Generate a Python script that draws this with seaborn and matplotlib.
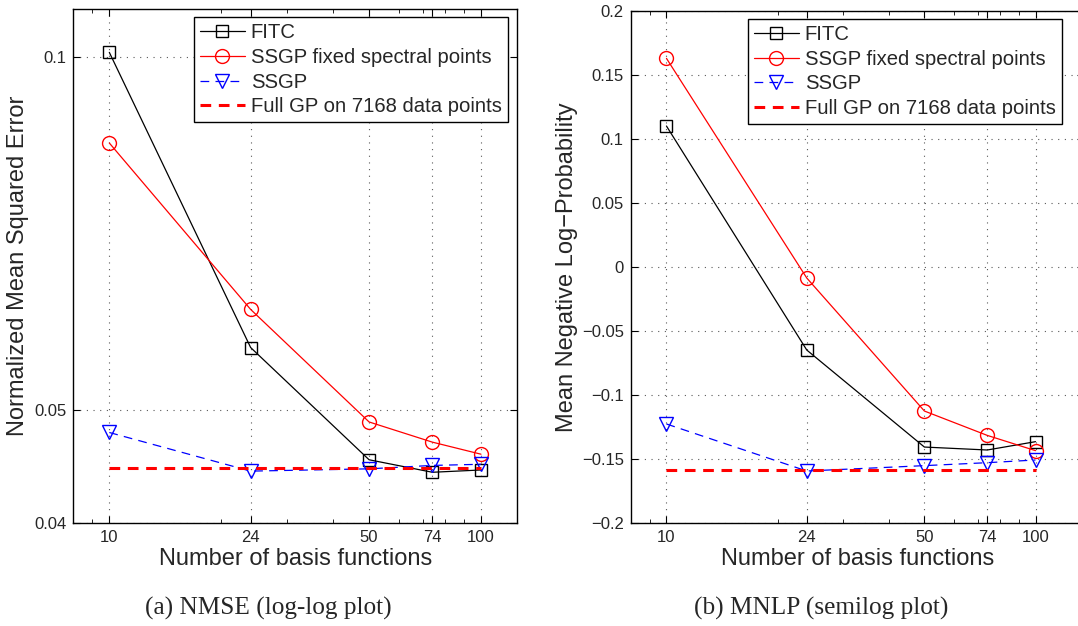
import numpy as np
import pandas as pd
import matplotlib
matplotlib.use("Agg")
import matplotlib.pyplot as plt
import matplotlib.ticker as mticker
import seaborn as sns

# ---------------- data ----------------
basis = [10, 24, 50, 74, 100]
xtick_labels = ["10", "24", "50", "74", "100"]

nmse_fitc = [0.101, 0.0565, 0.0453, 0.0442, 0.0444]
nmse_ssgp_fixed = [0.0845, 0.0609, 0.0488, 0.0469, 0.0458]
nmse_ssgp = [0.0478, 0.0443, 0.0445, 0.0448, 0.0449]
nmse_fullgp = 0.0446

mnlp_fitc = [0.110, -0.0648, -0.1405, -0.1428, -0.1363]
mnlp_ssgp_fixed = [0.1628, -0.0086, -0.1124, -0.1314, -0.1433]
mnlp_ssgp = [-0.1225, -0.1592, -0.1550, -0.1527, -0.1506]
mnlp_fullgp = -0.1584

fullgp_x = [10, 100]

nmse_yticks = [0.04, 0.05, 0.1]
nmse_ytick_labels = ["0.04", "0.05", "0.1"]
mnlp_yticks = [-0.2, -0.15, -0.1, -0.05, 0, 0.05, 0.1, 0.15, 0.2]
mnlp_ytick_labels = ["\u22120.2", "\u22120.15", "\u22120.1", "\u22120.05", "0",
                     "0.05", "0.1", "0.15", "0.2"]

labels = ["FITC", "SSGP fixed spectral points", "SSGP", "Full GP on 7168 data points"]

# ---------------- style ----------------
sns.set_style("ticks")
plt.rcParams["font.family"] = ["Liberation Sans", "DejaVu Sans"]

W, H = 1078, 626
fig = plt.figure(figsize=(W / 100, H / 100), dpi=100)

def px_axes(x0, y0, x1, y1):
    return fig.add_axes([x0 / W, 1 - y1 / H, (x1 - x0) / W, (y1 - y0) / H])

ax1 = px_axes(73.3, 9, 517, 523)
ax2 = px_axes(630.7, 10.7, 1083.6, 523.3)

def draw(ax, fitc, fixed, ssgp, full):
    sns.lineplot(x=basis, y=fitc, ax=ax, color="black", lw=0.9, marker="s",
                 markersize=8, markerfacecolor="none", markeredgecolor="black",
                 markeredgewidth=1.0, label=labels[0])
    sns.lineplot(x=basis, y=fixed, ax=ax, color="red", lw=0.9, marker="o",
                 markersize=10, markerfacecolor="none", markeredgecolor="red",
                 markeredgewidth=1.0, label=labels[1])
    sns.lineplot(x=basis, y=ssgp, ax=ax, color="blue", lw=0.9, marker="v",
                 markersize=10, markerfacecolor="none", markeredgecolor="blue",
                 markeredgewidth=1.0, linestyle=(0, (7, 5)), label=labels[2])
    sns.lineplot(x=fullgp_x, y=[full, full], ax=ax, color="red", lw=2.2,
                 linestyle=(0, (3.5, 2.5)), label=labels[3])

draw(ax1, nmse_fitc, nmse_ssgp_fixed, nmse_ssgp, nmse_fullgp)
draw(ax2, mnlp_fitc, mnlp_ssgp_fixed, mnlp_ssgp, mnlp_fullgp)

ax1.set_xscale("log")
ax1.set_yscale("log")
ax1.set_xlim(8, 125)
ax1.set_ylim(0.04, 0.11)
ax1.set_yticks(nmse_yticks)
ax1.yaxis.set_major_formatter(mticker.FixedFormatter(nmse_ytick_labels))
ax1.yaxis.set_minor_locator(mticker.NullLocator())

ax2.set_xscale("log")
ax2.set_xlim(8, 135)
ax2.set_ylim(-0.2, 0.2)
ax2.set_yticks(mnlp_yticks)
ax2.yaxis.set_major_formatter(mticker.FixedFormatter(mnlp_ytick_labels))

for ax in (ax1, ax2):
    ax.set_xticks(basis)
    ax.xaxis.set_major_formatter(mticker.FixedFormatter(xtick_labels))
    ax.xaxis.set_minor_locator(mticker.LogLocator(base=10, subs=np.arange(2, 10)))
    ax.xaxis.set_minor_formatter(mticker.NullFormatter())
    ax.grid(True, which="major", color="0.35", linestyle=(0, (1, 5)), lw=0.8)
    ax.tick_params(which="both", direction="in", top=True, right=True,
                   labelsize=12, pad=5, color="black")
    ax.tick_params(which="major", length=5, width=0.8)
    ax.tick_params(which="minor", length=3, width=0.6)
    for s in ax.spines.values():
        s.set_color("black")
        s.set_linewidth(1.0)
    ax.set_xlabel("Number of basis functions", fontsize=17, labelpad=2)

ax1.set_ylabel("Normalized Mean Squared Error", fontsize=17, labelpad=4)
ax2.set_ylabel("Mean Negative Log\u2212Probability", fontsize=17, labelpad=3)

for ax, xa in ((ax1, 0.272), (ax2, 0.259)):
    leg = ax.legend(loc="upper left", bbox_to_anchor=(xa, 0.984), fontsize=14.6,
                    frameon=True, fancybox=False, edgecolor="black",
                    framealpha=1, borderaxespad=0, handlelength=2.2,
                    handletextpad=0.3, labelspacing=0.28, borderpad=0.3)
    leg.get_frame().set_linewidth(1.0)

fig.text(268 / W, 1 - 608 / H, "(a) NMSE (log-log plot)", ha="center", va="center",
         fontsize=18.2, family=["Liberation Serif", "DejaVu Serif"])
fig.text(821 / W, 1 - 608 / H, "(b) MNLP (semilog plot)", ha="center", va="center",
         fontsize=18.2, family=["Liberation Serif", "DejaVu Serif"])

fig.savefig("out.png", dpi=100)
